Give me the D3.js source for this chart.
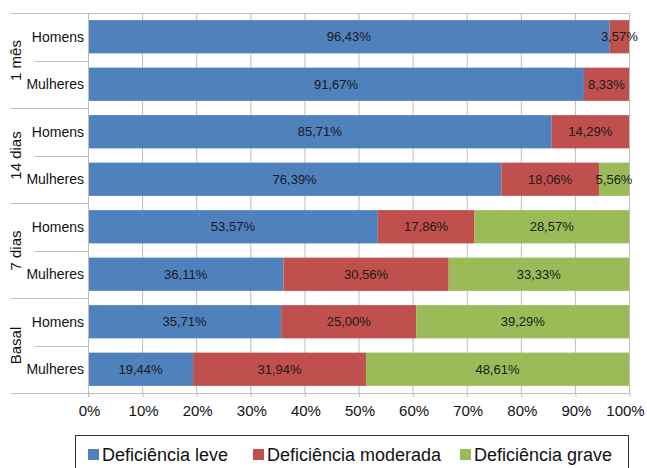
<!DOCTYPE html>
<html>
<head>
<meta charset="utf-8">
<script src="https://cdn.jsdelivr.net/npm/d3@7"></script>
<style>
  html, body { margin: 0; padding: 0; background: #fff; }
  svg { display: block; font-family: "Liberation Sans", Arial, Helvetica, sans-serif; }
</style>
</head>
<body>
<svg id="chart" width="647" height="468"></svg>
<script>
// ---- data ----
const groups = ["1 mês", "14 dias", "7 dias", "Basal"];
const sexes = ["Homens", "Mulheres"];
const seriesNames = ["Deficiência leve", "Deficiência moderada", "Deficiência grave"];
const leve = [96.43, 91.67, 85.71, 76.39, 53.57, 36.11, 35.71, 19.44];
const moderada = [3.57, 8.33, 14.29, 18.06, 17.86, 30.56, 25.00, 31.94];
const grave = [0, 0, 0, 5.56, 28.57, 33.33, 39.29, 48.61];
const xTicks = [0, 10, 20, 30, 40, 50, 60, 70, 80, 90, 100];
const colors = ["#4F81BD", "#C0504D", "#9BBB59"];

(function () {
// ---- layout ----
const svg = d3.select("#chart");
const pL = 88, pR = 629, pT = 13, pB = 393;
const gridColor = "#bdbdbd";

const rows = [];
groups.forEach((g, gi) => sexes.forEach((s, si) => rows.push({ id: gi * 2 + si, group: g, sex: s })));
rows.forEach((r, i) => { r.vals = [leve[i], moderada[i], grave[i]]; });

const x = d3.scaleLinear().domain([0, 100]).range([pL, pR]);
const y = d3.scaleBand().domain(rows.map(r => r.id)).range([pT, pB]).paddingInner(0.3).paddingOuter(0.15);
const step = y.step();

// gridlines
svg.append("g").selectAll("line").data(xTicks).join("line")
  .attr("x1", d => x(d) + 0.5).attr("x2", d => x(d) + 0.5)
  .attr("y1", pT).attr("y2", pB)
  .attr("stroke", gridColor).attr("stroke-width", 1);

// top line
svg.append("line").attr("x1", 11).attr("x2", pR + 0.5).attr("y1", pT + 0.5).attr("y2", pT + 0.5)
  .attr("stroke", gridColor);

// category separators (left)
rows.forEach((r, i) => {
  if (i === 0) return;
  const yy = Math.round(pT + i * step) + 0.5;
  const long = i % 2 === 0;
  svg.append("line").attr("x1", long ? 11 : 35).attr("x2", pL).attr("y1", yy).attr("y2", yy)
    .attr("stroke", gridColor);
});
// bottom line
svg.append("line").attr("x1", 11).attr("x2", pR + 0.5).attr("y1", pB + 0.5).attr("y2", pB + 0.5)
  .attr("stroke", gridColor);

// bars
const stackData = rows.map(r => ({ id: r.id, leve: r.vals[0], moderada: r.vals[1], grave: r.vals[2] }));
const stack = d3.stack().keys(["leve", "moderada", "grave"])(stackData);
const barG = svg.append("g");
stack.forEach((layer, li) => {
  barG.append("g").attr("fill", colors[li]).selectAll("rect").data(layer).join("rect")
    .attr("x", d => x(d[0]))
    .attr("y", d => y(d.data.id))
    .attr("width", d => x(d[1]) - x(d[0]))
    .attr("height", y.bandwidth());
});
// labels
stack.forEach((layer, li) => {
  barG.append("g").selectAll("text").data(layer.filter(d => d[1] - d[0] > 0)).join("text")
    .attr("x", d => (x(d[0]) + x(d[1])) / 2)
    .attr("y", d => y(d.data.id) + y.bandwidth() / 2)
    .attr("dy", "0.35em")
    .attr("text-anchor", "middle")
    .attr("font-size", 13)
    .attr("fill", "#1a1a1a")
    .text(d => (d[1] - d[0]).toFixed(2).replace(".", ",") + "%");
});

// left axis line
svg.append("line").attr("x1", pL + 0.5).attr("x2", pL + 0.5).attr("y1", pT).attr("y2", pB + 4)
  .attr("stroke", gridColor);

// category labels
svg.append("g").selectAll("text").data(rows).join("text")
  .attr("x", 84).attr("y", d => y(d.id) + y.bandwidth() / 2)
  .attr("dy", "0.35em").attr("text-anchor", "end")
  .attr("font-size", 14).attr("fill", "#111")
  .text(d => d.sex);

// group labels
svg.append("g").selectAll("text").data(groups).join("text")
  .attr("transform", (d, i) => `translate(21,${pT + step * (2 * i + 1)}) rotate(-90)`)
  .attr("text-anchor", "middle")
  .attr("font-size", 15).attr("fill", "#111")
  .text(d => d);

// x axis
const xAxis = svg.append("g").attr("transform", `translate(0,${pB})`)
  .call(d3.axisBottom(x).tickValues(xTicks).tickSize(4).tickFormat(d => d + "%"));
xAxis.select(".domain").remove();
xAxis.selectAll(".tick line").attr("stroke", gridColor).attr("transform", "translate(0.5,0)");
xAxis.selectAll(".tick text").attr("font-size", 15).attr("fill", "#111")
  .attr("font-family", "Liberation Sans, Arial, sans-serif").attr("dy", "0.3em").attr("y", 18)
  .attr("x", d => d === 100 ? -4 : 1);

// legend
const lg = svg.append("g");
lg.append("rect").attr("x", 75.5).attr("y", 435.5).attr("width", 553).attr("height", 40)
  .attr("fill", "none").attr("stroke", "#333");
const legendX = [88, 253, 460];
seriesNames.forEach((n, i) => {
  lg.append("rect").attr("x", legendX[i]).attr("y", 449).attr("width", 11).attr("height", 11).attr("fill", colors[i]);
  lg.append("text").attr("x", legendX[i] + 14).attr("y", 461).attr("font-size", 18).attr("fill", "#111").text(n);
});
})();
</script>
</body>
</html>
